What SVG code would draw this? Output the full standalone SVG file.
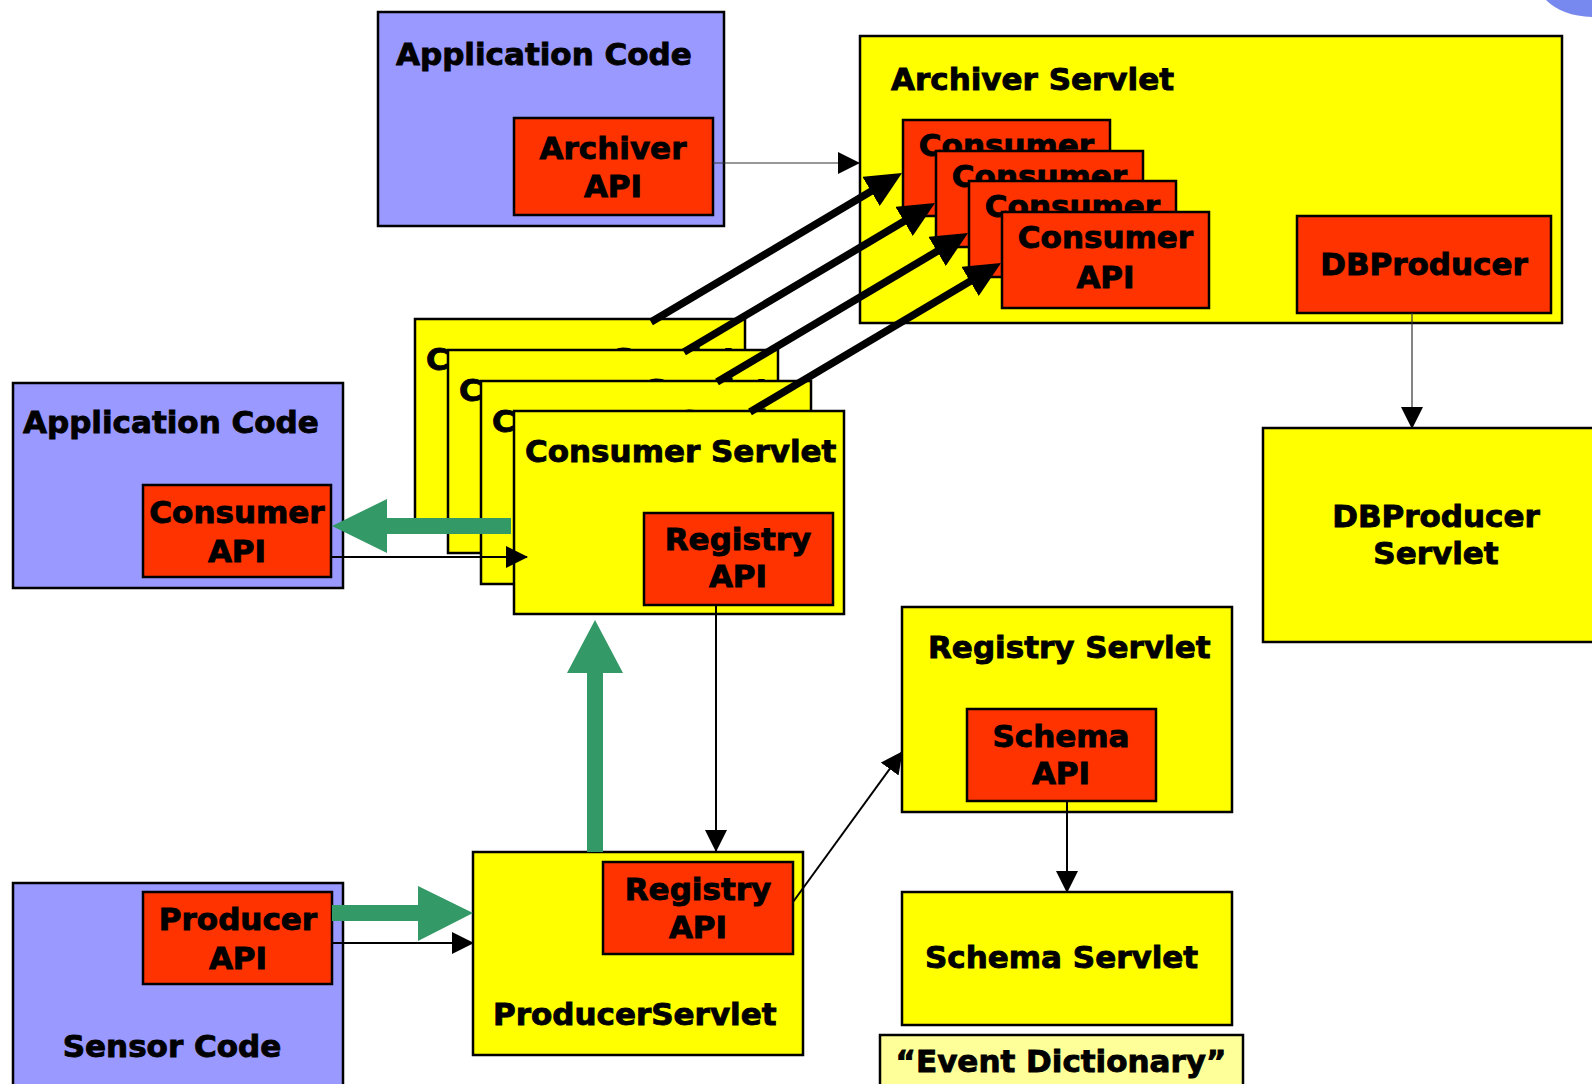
<svg xmlns="http://www.w3.org/2000/svg" width="1592" height="1084" viewBox="0 0 1592 1084">
<style>
.blue{fill:#9999FF;stroke:#000;stroke-width:2.5}
.red{fill:#FF3300;stroke:#000;stroke-width:2.5}
.yel{fill:#FFFF00;stroke:#000;stroke-width:2.5}
.pale{fill:#FFFF99;stroke:#000;stroke-width:2.5}
text{font-family:"DejaVu Sans","Verdana","Liberation Sans",sans-serif;font-weight:bold;font-size:31px;fill:#000;stroke:#000;stroke-width:0.9}
.c{text-anchor:middle}
.thin{stroke:#000;stroke-width:2;fill:none}
.hair{stroke:#333;stroke-width:1.2;fill:none}
.thick{stroke:#000;stroke-width:7.5;fill:none}
.green{fill:#339966;stroke:none}
</style>
<defs>
<marker id="ah" viewBox="0 0 22 22" refX="21" refY="11" markerWidth="22" markerHeight="22" markerUnits="userSpaceOnUse" orient="auto">
<path d="M0,0 L22,11 L0,22 Z" fill="#000"/>
</marker>
<marker id="ahBig" viewBox="0 0 36 34" refX="4" refY="17" markerWidth="36" markerHeight="34" markerUnits="userSpaceOnUse" orient="auto">
<path d="M0,0 L36,17 L0,34 Z" fill="#000"/>
</marker>
</defs>
<rect width="1592" height="1084" fill="#fff"/>
<path d="M1546,0 Q1562,16 1592,17 L1592,0 Z" fill="#7788EE"/>

<g id="app-code-archiver">
<rect class="blue" x="378" y="12" width="346" height="214"/>
<text x="396" y="65">Application Code</text>
<g id="archiver-api">
<rect class="red" x="514" y="118" width="199" height="97"/>
<text class="c" x="613" y="159">Archiver</text>
<text class="c" x="613" y="197">API</text>
</g>
</g>

<g id="archiver-servlet">
<rect class="yel" x="860" y="36" width="702" height="287"/>
<text x="891" y="90">Archiver Servlet</text>
<g id="consumer-api-1">
<rect class="red" x="903" y="120" width="207" height="96"/>
<text class="c" x="1006.5" y="156">Consumer</text>
</g>
<g id="consumer-api-2">
<rect class="red" x="936" y="151" width="207" height="96"/>
<text class="c" x="1039.5" y="187">Consumer</text>
</g>
<g id="consumer-api-3">
<rect class="red" x="969" y="181" width="207" height="96"/>
<text class="c" x="1072.5" y="217">Consumer</text>
</g>
<g id="consumer-api-4">
<rect class="red" x="1002" y="212" width="207" height="96"/>
<text class="c" x="1105.5" y="248">Consumer</text>
<text class="c" x="1105.5" y="288">API</text>
</g>
<g id="dbproducer">
<rect class="red" x="1297" y="216" width="254" height="97"/>
<text class="c" x="1424" y="275">DBProducer</text>
</g>
</g>

<g id="dbproducer-servlet">
<rect class="yel" x="1263" y="428" width="345" height="214"/>
<text class="c" x="1436" y="527">DBProducer</text>
<text class="c" x="1436" y="564">Servlet</text>
</g>

<g id="app-code-consumer">
<rect class="blue" x="13" y="383" width="330" height="205"/>
<text x="23" y="433">Application Code</text>
<g id="consumer-api-left">
<rect class="red" x="143" y="485" width="188" height="92"/>
<text class="c" x="237" y="523">Consumer</text>
<text class="c" x="237" y="562">API</text>
</g>
</g>

<g id="consumer-servlet-a">
<rect class="yel" x="415" y="319" width="330" height="203"/>
<text x="426" y="370">Consumer Servlet</text>
</g>
<g id="consumer-servlet-b">
<rect class="yel" x="448" y="350" width="330" height="203"/>
<text x="459" y="401">Consumer Servlet</text>
</g>
<g id="consumer-servlet-c">
<rect class="yel" x="481" y="381" width="330" height="203"/>
<text x="492" y="432">Consumer Servlet</text>
</g>
<g id="consumer-servlet">
<rect class="yel" x="514" y="411" width="330" height="203"/>
<text x="525" y="462">Consumer Servlet</text>
<g id="registry-api-consumer">
<rect class="red" x="644" y="513" width="189" height="92"/>
<text class="c" x="738" y="550">Registry</text>
<text class="c" x="738" y="587">API</text>
</g>
</g>

<g id="registry-servlet">
<rect class="yel" x="902" y="607" width="330" height="205"/>
<text x="928" y="658">Registry Servlet</text>
<g id="schema-api">
<rect class="red" x="967" y="709" width="189" height="92"/>
<text class="c" x="1061" y="747">Schema</text>
<text class="c" x="1061" y="784">API</text>
</g>
</g>

<g id="schema-servlet">
<rect class="yel" x="902" y="892" width="330" height="133"/>
<text x="925" y="968">Schema Servlet</text>
</g>

<g id="event-dictionary">
<rect class="pale" x="880" y="1035" width="363" height="60"/>
<text class="c" x="1061" y="1072">“Event Dictionary”</text>
</g>

<g id="sensor-code">
<rect class="blue" x="13" y="883" width="330" height="210"/>
<text class="c" x="172" y="1057">Sensor Code</text>
<g id="producer-api">
<rect class="red" x="143" y="892" width="189" height="92"/>
<text class="c" x="238" y="930">Producer</text>
<text class="c" x="238" y="969">API</text>
</g>
</g>

<g id="producer-servlet">
<rect class="yel" x="473" y="852" width="330" height="203"/>
<text x="493" y="1025">ProducerServlet</text>
<g id="registry-api-producer">
<rect class="red" x="603" y="862" width="190" height="92"/>
<text class="c" x="698" y="900">Registry</text>
<text class="c" x="698" y="938">API</text>
</g>
</g>

<g id="connectors">
<line class="hair" x1="713" y1="163" x2="859" y2="163" marker-end="url(#ah)"/>
<line class="hair" x1="1412" y1="313" x2="1412" y2="428" marker-end="url(#ah)"/>
<line class="thin" x1="716" y1="605" x2="716" y2="851" marker-end="url(#ah)"/>
<line class="thin" x1="793" y1="902" x2="902" y2="752" marker-end="url(#ah)"/>
<line class="thin" x1="1067" y1="801" x2="1067" y2="892" marker-end="url(#ah)"/>
<line class="thin" x1="331" y1="557" x2="527" y2="557" marker-end="url(#ah)"/>
<line class="thin" x1="332" y1="943" x2="473" y2="943" marker-end="url(#ah)"/>
<line class="thick" x1="651" y1="322" x2="874.5" y2="189.3" marker-end="url(#ahBig)"/>
<line class="thick" x1="684" y1="352" x2="907.5" y2="219.3" marker-end="url(#ahBig)"/>
<line class="thick" x1="717" y1="382" x2="940.5" y2="249.3" marker-end="url(#ahBig)"/>
<line class="thick" x1="750" y1="412" x2="973.5" y2="279.3" marker-end="url(#ahBig)"/>
<polygon class="green" points="511,518 387,518 387,499 332,526 387,553 387,534 511,534"/>
<polygon class="green" points="587,852 587,673 567,673 595,620 623,673 603,673 603,852"/>
<polygon class="green" points="332,905 418,905 418,886 473,913 418,941 418,921 332,921"/>
</g>
</svg>
